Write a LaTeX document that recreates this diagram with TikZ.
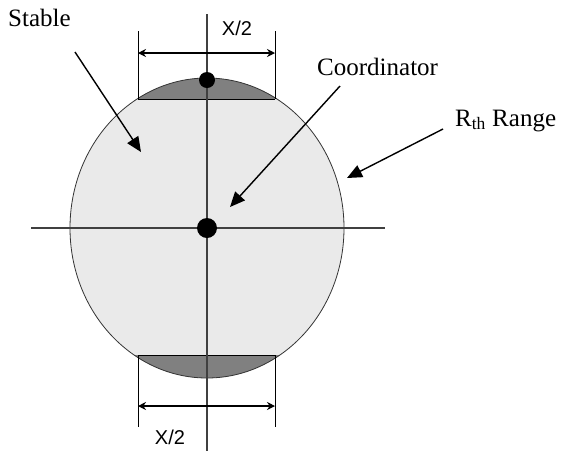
\documentclass[tikz,border=0pt]{standalone}
\usepackage{fontspec}
\setmainfont{Liberation Serif}
\newfontfamily\dimsans{Liberation Sans}
\usetikzlibrary{arrows.meta,positioning,calc}
\definecolor{zonefill}{RGB}{234,234,234}
\definecolor{capfill}{RGB}{128,128,128}
\definecolor{axisline}{RGB}{64,64,64}
\tikzset{
  lbl/.style={font=\fontsize{25}{30}\selectfont,inner sep=0pt},
  dimlbl/.style={font=\dimsans\fontsize{20}{24}\selectfont,inner sep=0pt},
  pointer/.style={-{Triangle[length=15pt,width=13pt]},line width=1.4pt},
  dimline/.style={{Stealth[length=8pt,width=8pt]}-{Stealth[length=8pt,width=8pt]},line width=1.1pt},
  dot/.style={circle,fill=black,inner sep=0pt},
}

\begin{document}
\begin{tikzpicture}[x=1pt,y=-1pt]
  \useasboundingbox (0,0) rectangle (562,451);
  % zona R_th con los dos casquetes
  \fill[zonefill] (207,228) ellipse [x radius=137,y radius=150];
  \begin{scope}
    \clip (207,228) ellipse [x radius=137,y radius=150];
    \fill[capfill] (60,60) rectangle (360,99);
    \fill[capfill] (60,355) rectangle (360,400);
  \end{scope}
  \draw[black!80,line width=0.8pt] (207,228) ellipse [x radius=137,y radius=150];
  \draw[line width=1pt] (138,99) -- (275,99);
  \draw[line width=1pt] (138,355) -- (275,355);
  % ejes
  \draw[axisline,line width=1.6pt] (31,228) -- (385,228);
  \draw[axisline,line width=1.6pt] (207,14) -- (207,451);
  \node[dot,minimum size=20pt] (hub) at (207,228) {};
  \node[dot,minimum size=16pt] (peak) at (207,80) {};
  % cotas X/2
  \draw[line width=1pt] (138,99) -- (138,31) (275,99) -- (275,31);
  \draw[dimline] (138,53) -- (275,53);
  \node[dimlbl] (dimtop) at (237,28) {X/2};
  \draw[line width=1pt] (138,355) -- (138,427) (275,355) -- (275,427);
  \draw[dimline] (138,406) -- (275,406);
  \node[dimlbl] (dimbot) at (170,437) {X/2};
  % etiquetas y flechas
  \node[lbl,anchor=base west] (stablelbl) at (8,26) {Stable};
  \node[lbl,anchor=base west] (coordlbl) at (317,75) {Coordinator};
  \node[lbl,anchor=base west] (rangelbl) at (455,126) {R\textsubscript{th} Range};
  \coordinate (stabletail) at (75,52);
  \coordinate (stabletip) at (141,152);
  \coordinate (coordtail) at (340,86);
  \coordinate (coordtip) at (230,207);
  \coordinate (rangetail) at (443,129);
  \coordinate (rangetip) at (347,178);
  \draw[pointer] (stabletail) -- (stabletip);
  \draw[pointer] (coordtail) -- (coordtip);
  \draw[pointer] (rangetail) -- (rangetip);
\end{tikzpicture}
\end{document}
